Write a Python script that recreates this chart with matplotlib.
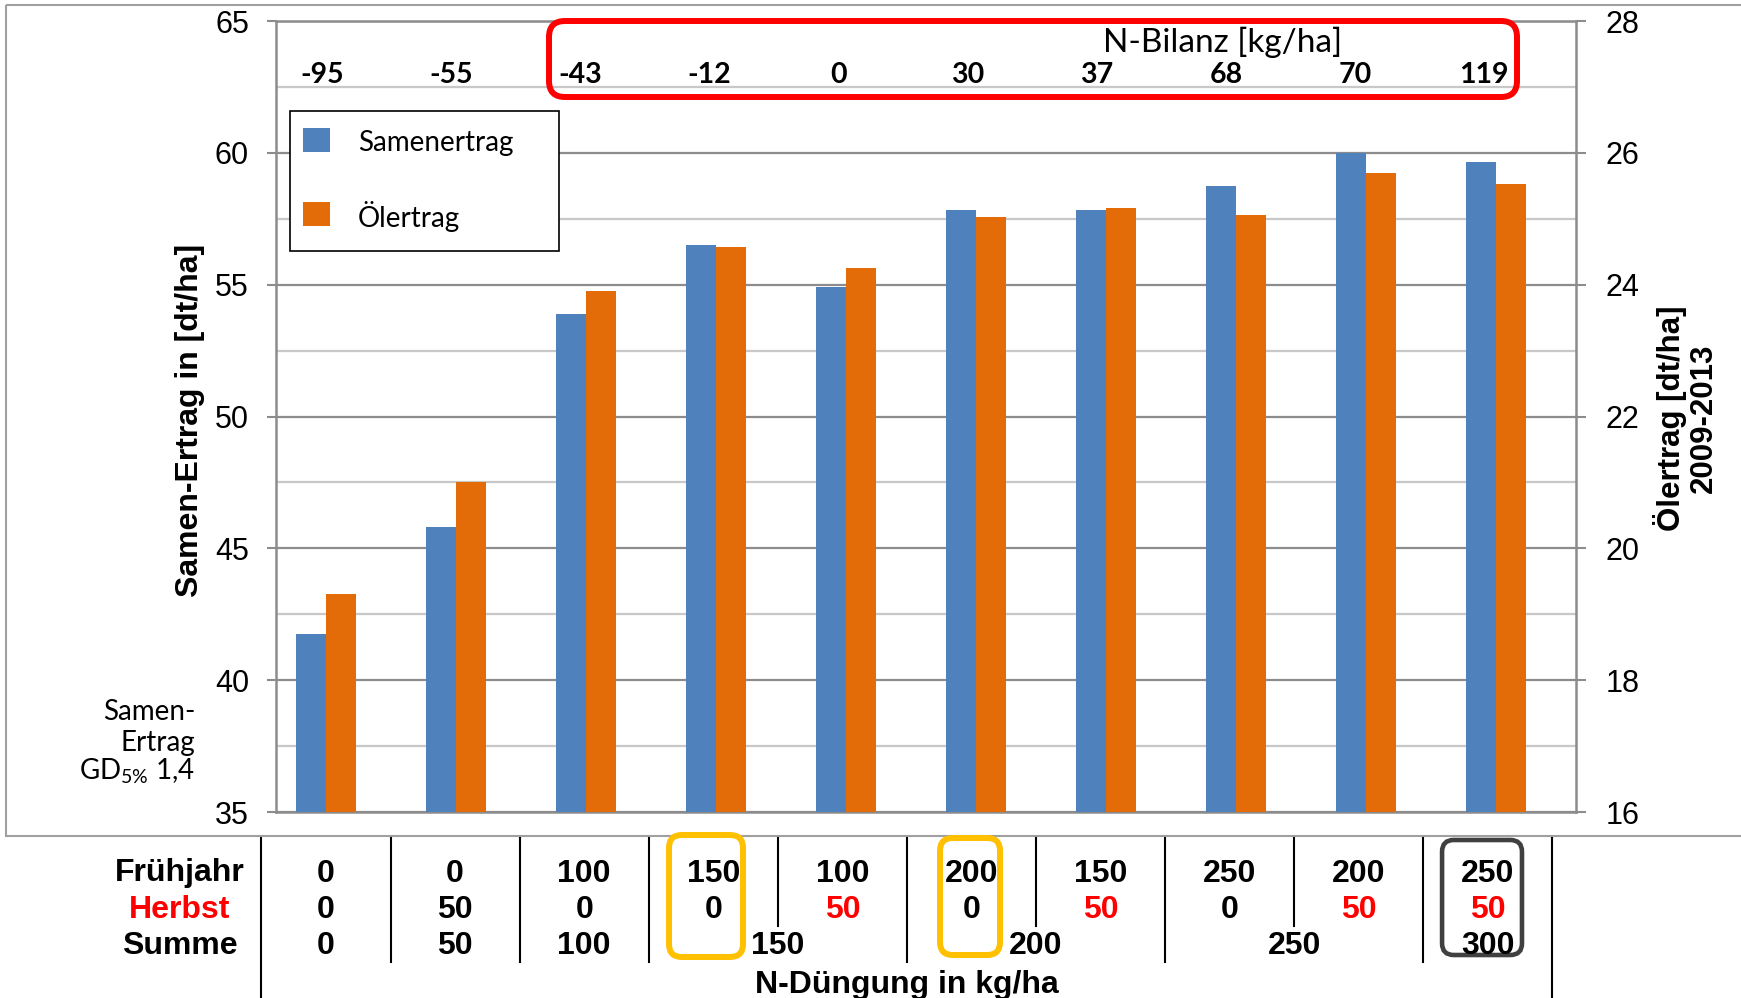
import matplotlib
matplotlib.use("Agg")
import matplotlib.pyplot as plt
import numpy as np
from matplotlib.patches import Rectangle, FancyBboxPatch
from matplotlib.lines import Line2D

# ---------------- data ----------------
treatments = list(range(10))
samenertrag = [41.75, 45.82, 53.87, 56.49, 54.90, 57.85, 57.82, 58.76, 60.00, 59.64]
oelertrag = [19.31, 21.01, 23.90, 24.57, 24.26, 25.02, 25.16, 25.05, 25.69, 25.53]
n_bilanz = [-95, -55, -43, -12, 0, 30, 37, 68, 70, 119]
fruehjahr = [0, 0, 100, 150, 100, 200, 150, 250, 200, 250]
herbst = [0, 50, 0, 0, 50, 0, 50, 0, 50, 50]
herbst_red = [False, False, False, False, True, False, True, False, True, True]
summe = [0, 50, 100, 150, 200, 250, 300]
summe_pos = [0, 1, 2, 3.5, 5.5, 7.5, 9]
short_dividers = [3.5, 5.5, 7.5]
left_ticks = [35, 40, 45, 50, 55, 60, 65]
left_minor = [37.5, 42.5, 47.5, 52.5, 57.5, 62.5]
right_ticks = [16, 18, 20, 22, 24, 26, 28]

BLUE = "#4F81BD"
ORANGE = "#E36C09"
MAJ = "#8C8C8C"
MIN = "#C8C8C8"

W, H = 1741, 998
plt.rcParams["font.family"] = ["Liberation Sans", "DejaVu Sans"]
plt.rcParams["mathtext.fontset"] = "custom"
plt.rcParams["mathtext.rm"] = "Lato"

fig = plt.figure(figsize=(W / 100, H / 100), dpi=100)

def fy(px):
    return 1 - px / H

# ---------------- main axes ----------------
ax = fig.add_axes([276 / W, fy(812), 1300 / W, 791 / H])
ax2 = ax.twinx()
x = np.arange(len(treatments))
bw = 0.23
ax.bar(x - bw / 2, samenertrag, bw, color=BLUE, zorder=3)
ax2.bar(x + bw / 2, oelertrag, bw, color=ORANGE, zorder=3)

ax.set_xlim(-0.385, 9.615)
ax.set_ylim(35, 65)
ax2.set_ylim(16, 28)
ax.set_xticks([])
ax.set_yticks(left_ticks)
ax.set_yticks(left_minor, minor=True)
ax2.set_yticks(right_ticks)
ax.set_axisbelow(True)
ax.yaxis.grid(True, which="major", color=MAJ, lw=1.6)
ax.yaxis.grid(True, which="minor", color=MIN, lw=1.6)

for s in ["left", "bottom", "top"]:
    ax.spines[s].set_color(MAJ)
    ax.spines[s].set_linewidth(1.8)
ax.spines["right"].set_visible(False)
for s in ["left", "bottom", "top"]:
    ax2.spines[s].set_visible(False)
ax2.spines["right"].set_color(MAJ)
ax2.spines["right"].set_linewidth(1.8)

ax.tick_params(axis="y", which="major", direction="out", length=6.5, width=1.5,
               color=MAJ, labelsize=22, pad=13)
ax.tick_params(axis="y", which="minor", length=0)
ax2.tick_params(axis="y", which="major", direction="out", length=7, width=1.5,
                color=MAJ, labelsize=22, pad=14)

# axis titles
fig.text(190 / W, fy(420), "Samen-Ertrag in [dt/ha]", rotation=90, ha="center",
         va="center", fontsize=23, fontweight="bold")
fig.text(1686 / W, fy(418), "Ölertrag [dt/ha]\n2009-2013", rotation=90, ha="center",
         va="center", fontsize=22.5, fontweight="bold", linespacing=1.1,
         multialignment="center")

# ---------------- pixel overlay ----------------
ovl = fig.add_axes([0, 0, 1, 1])
ovl.set_xlim(0, W)
ovl.set_ylim(H, 0)
ovl.axis("off")

ovl.add_patch(Rectangle((6, 5), W, 831, fill=False, ec="#A0A0A0", lw=1.5))
ovl.add_patch(FancyBboxPatch((549, 21), 968, 76, boxstyle="round,pad=0,rounding_size=16",
                             fc="none", ec="#FF0000", lw=4.3))
ovl.text(1223, 39, "N-Bilanz [kg/ha]", ha="center", va="center_baseline",
         fontfamily="Lato", fontsize=24)

# legend
ovl.add_patch(Rectangle((290, 111), 269, 140, fc="white", ec="black", lw=1.2))
ovl.add_patch(Rectangle((303, 128), 27, 24, fc=BLUE, ec="none"))
ovl.add_patch(Rectangle((303, 202), 27, 24, fc=ORANGE, ec="none"))
ovl.text(358, 140, "Samenertrag", ha="left", va="center_baseline", fontfamily="Lato", fontsize=20)
ovl.text(358, 214, "Ölertrag", ha="left", va="center_baseline", fontfamily="Lato", fontsize=20)

# GD note
ovl.text(195, 710, "Samen-", ha="right", va="center_baseline", fontfamily="Lato", fontsize=20)
ovl.text(195, 740, "Ertrag", ha="right", va="center_baseline", fontfamily="Lato", fontsize=20)
ovl.text(195, 768, r"GD$_{\mathregular{5\%}}$ 1,4", ha="right", va="center_baseline",
         fontfamily="Lato", fontsize=20)

# row labels
ovl.text(180, 870, "Frühjahr", ha="center", va="center_baseline", fontsize=23, fontweight="bold")
ovl.text(180, 907, "Herbst", ha="center", va="center_baseline", fontsize=23, fontweight="bold",
         color="#FF0000")
ovl.text(180, 943, "Summe", ha="center", va="center_baseline", fontsize=23, fontweight="bold")

# ---------------- table overlay (category x, pixel y) ----------------
C0, DX = 326, 129.1
tab = fig.add_axes([0, 0, 1, 1])
tab.set_xlim(-C0 / DX, (W - C0) / DX)
tab.set_ylim(H, 0)
tab.axis("off")

# N-Bilanz labels
for i, v in zip(treatments, n_bilanz):
    tab.text(i - 0.03, 72, str(v), ha="center", va="center_baseline", fontfamily="Lato",
             fontweight="bold", fontsize=20.5)

for i, v in zip(treatments, fruehjahr):
    tab.text(i, 870, str(v), ha="center", va="center_baseline", fontsize=23, fontweight="bold")
for i, v, red in zip(treatments, herbst, herbst_red):
    tab.text(i, 907, str(v), ha="center", va="center_baseline", fontsize=23, fontweight="bold",
             color="#FF0000" if red else "black")
for p, v in zip(summe_pos, summe):
    tab.text(p, 943, str(v), ha="center", va="center_baseline", fontsize=23, fontweight="bold")
tab.text(4.5, 982, "N-Düngung in kg/ha", ha="center", va="center_baseline", fontsize=23,
         fontweight="bold")

for i in treatments[:-1]:
    d = i + 0.5
    yb = 926 if d in short_dividers else 962
    tab.add_line(Line2D([d, d], [838, yb], color="black", lw=1.5))
for d in [treatments[0] - 0.5, treatments[-1] + 0.5]:
    tab.add_line(Line2D([d, d], [838, H], color="black", lw=1.5))

AS = DX
tab.add_patch(FancyBboxPatch((3 - 0.343, 835), 0.573, 122, boxstyle="round,pad=0,rounding_size=0.1",
                             mutation_aspect=AS, fc="none", ec="#FFC000", lw=4.3))
tab.add_patch(FancyBboxPatch((5 - 0.244, 838), 0.465, 117, boxstyle="round,pad=0,rounding_size=0.1",
                             mutation_aspect=AS, fc="none", ec="#FFC000", lw=4.3))
tab.add_patch(FancyBboxPatch((9 - 0.355, 840), 0.619, 115, boxstyle="round,pad=0,rounding_size=0.09",
                             mutation_aspect=AS, fc="none", ec="#404040", lw=3.3))

fig.savefig("out.png", dpi=100)
